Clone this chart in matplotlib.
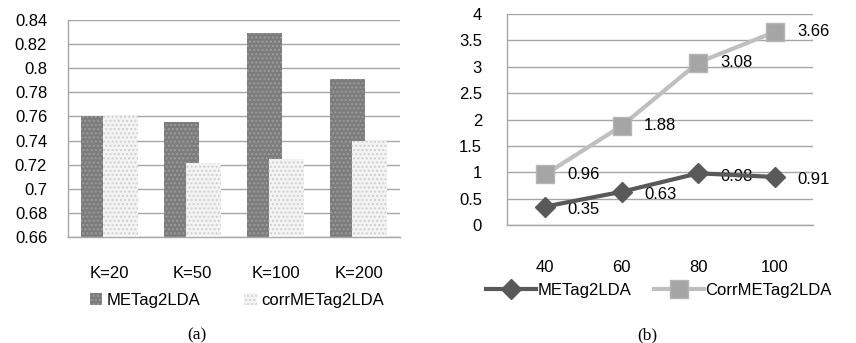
import matplotlib

matplotlib.use("Agg")
import matplotlib.pyplot as plt
import numpy as np
from matplotlib.lines import Line2D
from matplotlib.patches import Patch

# panel (a): bar chart
K_LABELS = ["K=20", "K=50", "K=100", "K=200"]
metag_a = [0.760, 0.755, 0.829, 0.791]
corr_a = [0.761, 0.721, 0.725, 0.740]
YTICKS_A = [0.66, 0.68, 0.70, 0.72, 0.74, 0.76, 0.78, 0.80, 0.82, 0.84]

# panel (b): line chart
X_LABELS_B = ["40", "60", "80", "100"]
metag_b = [0.35, 0.63, 0.98, 0.91]
corr_b = [0.96, 1.88, 3.08, 3.66]
YTICKS_B = [0, 0.5, 1, 1.5, 2, 2.5, 3, 3.5, 4]

plt.rcParams["font.family"] = ["Liberation Sans", "DejaVu Sans"]
plt.rcParams["hatch.linewidth"] = 1.0
FS = 12
GRID = "#a6a6a6"

fig = plt.figure(figsize=(8.56, 3.43), dpi=100)


def style(ax, yticks, ypad):
    ax.set_yticks(yticks, [f"{v:g}" for v in yticks])
    ax.set_ylim(yticks[0], yticks[-1])
    ax.yaxis.grid(True, color=GRID, lw=1.0)
    ax.set_axisbelow(True)
    for s in ["top", "right"]:
        ax.spines[s].set_visible(False)
    for s in ["left", "bottom"]:
        ax.spines[s].set_color(GRID)
        ax.spines[s].set_linewidth(1.0)
    ax.tick_params(axis="both", length=0, labelsize=FS)
    ax.tick_params(axis="y", pad=ypad)


# ---- (a)
axA = fig.add_axes([68 / 856, 1 - 237 / 343, 332 / 856, 217 / 343])
x = np.arange(len(K_LABELS))
w = 0.42
axA.bar(x - 0.13, metag_a, w, color="#7c7c7c", hatch="....",
        edgecolor="#9c9c9c", lw=0, zorder=2)
axA.bar(x + 0.13, corr_a, w, color="#f4f4f4", hatch="....",
        edgecolor="#cfcfcf", lw=0, zorder=3)
axA.set_xlim(-0.5, 3.5)
style(axA, YTICKS_A, 15)
axA.set_xticks(x, K_LABELS)
axA.tick_params(axis="x", pad=21)

hA = [Patch(facecolor="#7c7c7c", hatch="....", edgecolor="#9c9c9c", lw=0),
      Patch(facecolor="#f4f4f4", hatch="....", edgecolor="#cfcfcf", lw=0)]
fig.legend(hA, ["METag2LDA", "corrMETag2LDA"], loc="center",
           bbox_to_anchor=(237 / 856, 1 - 300 / 343), ncol=2, frameon=False,
           fontsize=FS, handlelength=0.75, handleheight=0.75, handletextpad=0.3,
           columnspacing=2.6)
fig.text(197 / 856, 1 - 335 / 343, "(a)", ha="center", va="center",
         family="Liberation Serif", fontsize=12.5)

# ---- (b)
axB = fig.add_axes([507 / 856, 1 - 225 / 343, 306 / 856, 211 / 343])
xb = np.arange(len(X_LABELS_B))
axB.plot(xb, corr_b, color="#bfbfbf", lw=3, marker="s", ms=13,
         mfc="#a5a5a5", mec="#b5b5b5", zorder=3, clip_on=False)
axB.plot(xb, metag_b, color="#595959", lw=3, marker="D", ms=10,
         mfc="#595959", mec="#595959", zorder=4, clip_on=False)
for xi, v in zip(xb, corr_b):
    axB.annotate(f"{v:.2f}", (xi, v), xytext=(16, 0), textcoords="offset points",
                 ha="left", va="center", fontsize=FS)
for xi, v in zip(xb, metag_b):
    axB.annotate(f"{v:.2f}", (xi, v), xytext=(16, -2), textcoords="offset points",
                 ha="left", va="center", fontsize=FS)
axB.set_xlim(-0.5, 3.5)
style(axB, YTICKS_B, 18)
axB.set_xticks(xb, X_LABELS_B)
axB.tick_params(axis="x", pad=25)

hB = [Line2D([], [], color="#595959", lw=3, marker="D", ms=10),
      Line2D([], [], color="#bfbfbf", lw=3, marker="s", ms=13,
             mfc="#a5a5a5", mec="#b5b5b5")]
fig.legend(hB, ["METag2LDA", "CorrMETag2LDA"], loc="center",
           bbox_to_anchor=(659 / 856, 1 - 290 / 343), ncol=2, frameon=False,
           fontsize=FS, handlelength=3.0, handletextpad=0.05, columnspacing=1.4)
fig.text(647 / 856, 1 - 335 / 343, "(b)", ha="center", va="center",
         family="Liberation Serif", fontsize=12.5)

fig.savefig("out.png", dpi=100)
